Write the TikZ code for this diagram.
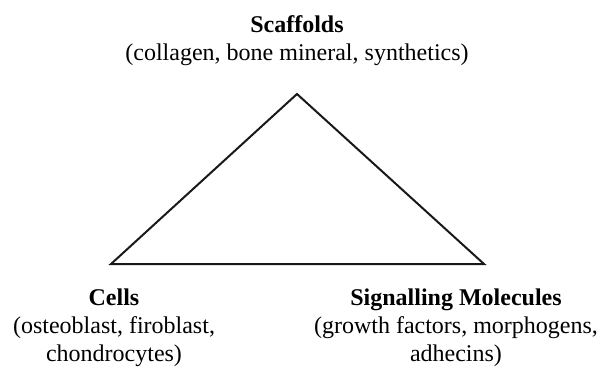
\documentclass[tikz,border=0pt]{standalone}
\usepackage{fontspec}
\setmainfont{Liberation Serif}
\usepackage{tikz}
\usetikzlibrary{positioning}
\tikzstyle{labelNode}=[align=center, inner sep=0pt, anchor=base, font=\fontsize{24}{28}\selectfont]
\tikzstyle{edge}=[line width=2pt, line join=miter, draw=black!90]

\begin{document}
\begin{tikzpicture}[x=1pt, y=-1pt]
\useasboundingbox (0,0) rectangle (603,367);
\coordinate (apex) at (297,94);
\coordinate (cellsCorner) at (111,264);
\coordinate (signalCorner) at (484,264);
\node[labelNode] (scaffolds) at (297,60) {\textbf{Scaffolds}\\(collagen, bone mineral, synthetics)};
\node[labelNode] (cells) at (114,361) {\textbf{Cells}\\(osteoblast, firoblast,\\chondrocytes)};
\node[labelNode] (signalling) at (456,361) {\textbf{Signalling Molecules}\\(growth factors, morphogens,\\adhecins)};

\draw[edge] (apex) -- (signalCorner) -- (cellsCorner) -- cycle;
\end{tikzpicture}
\end{document}
